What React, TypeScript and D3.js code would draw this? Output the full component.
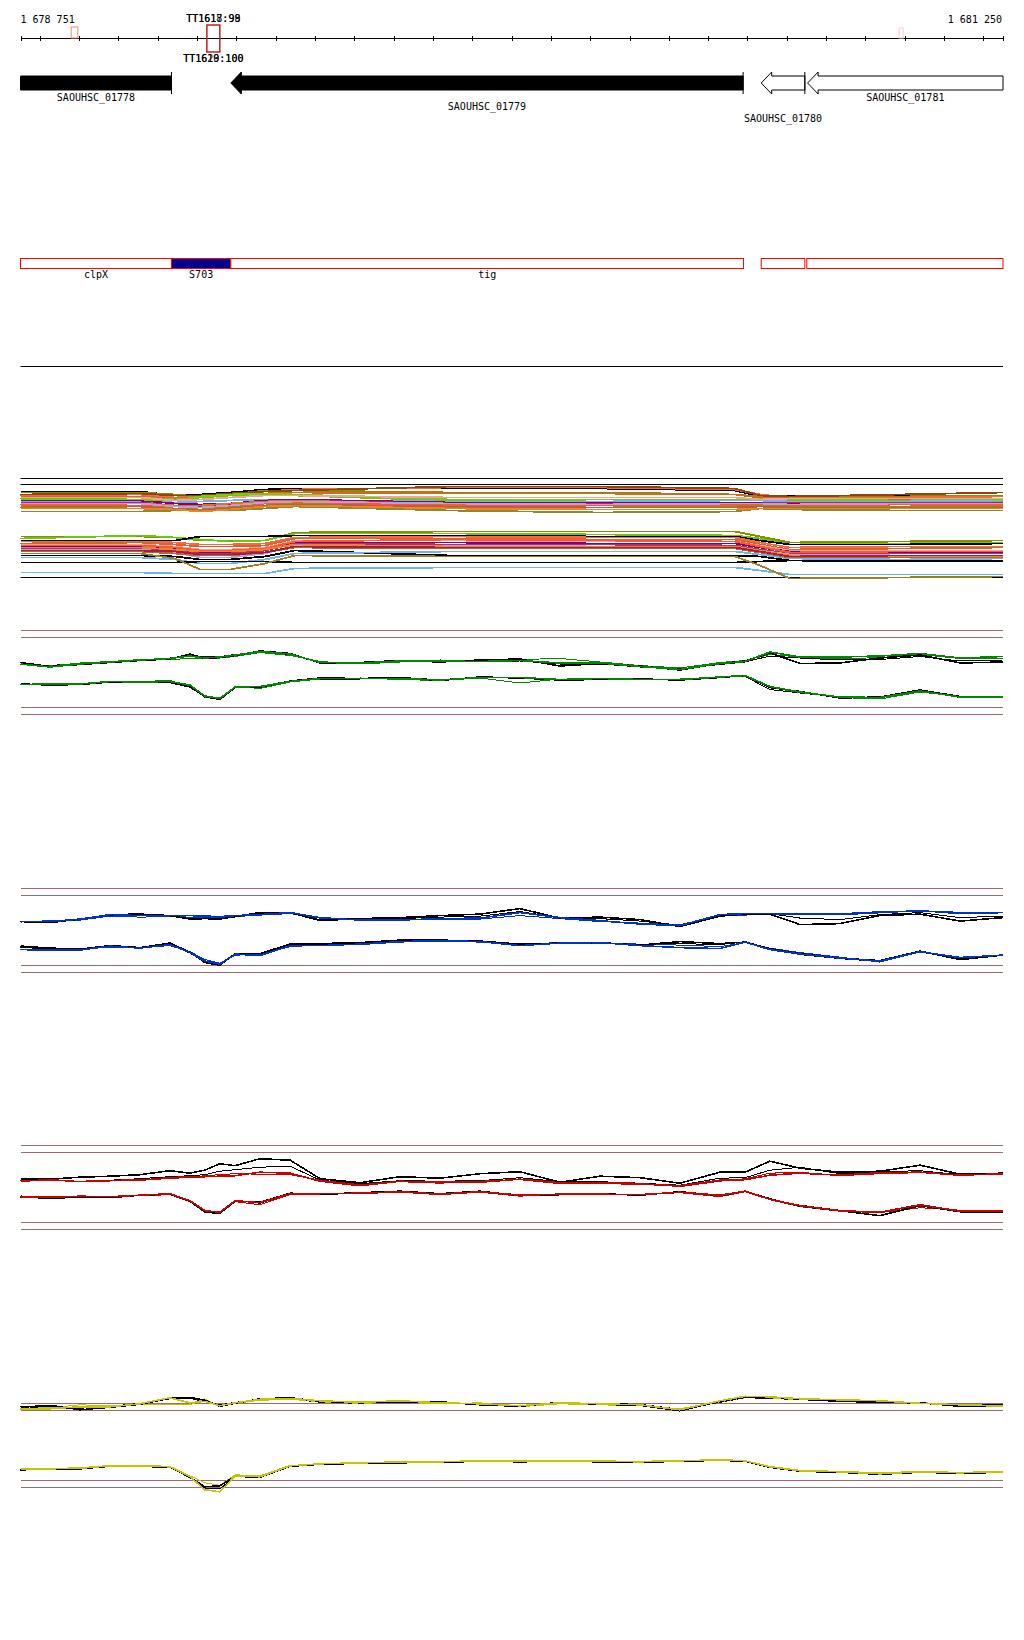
import React, { useEffect, useRef } from "react";
import * as d3 from "d3";

// genome window
const START = 1678751;
const END = 1681250;
const START_LABEL = "1 678 751";
const END_LABEL = "1 681 250";

const GENES = [
  { name: "SAOUHSC_01778", start: 1677900, end: 1679135, filled: true, row: 0 },
  { name: "SAOUHSC_01779", start: 1679286, end: 1680589, filled: true, row: 1 },
  { name: "SAOUHSC_01780", start: 1680635, end: 1680746, filled: false, row: 2 },
  { name: "SAOUHSC_01781", start: 1680753, end: 1681600, filled: false, row: 0 },
];

const OPERONS = [
  { name: "clpX", start: 1678700, end: 1679135, fill: "#fff" },
  { name: "S703", start: 1679135, end: 1679286, fill: "#00008b" },
  { name: "tig", start: 1679286, end: 1680590, fill: "#fff" },
  { name: "", start: 1680635, end: 1680746, fill: "#fff" },
  { name: "", start: 1680751, end: 1681600, fill: "#fff" },
];

const MARKERS = [
  { start: 1678880, end: 1678897, color: "#f08a70", y0: 27, y1: 38 },
  { start: 1679225, end: 1679258, color: "#c02020", y0: 25, y1: 52 },
  { start: 1680986, end: 1680996, color: "#f4d0c8", y0: 28, y1: 38 },
];
const MARKER_TOP_LABELS = ["TT1617:99", "TT1618:98"];
const MARKER_BOTTOM_LABELS = ["TT1619:100", "TT1620:100"];

// sampled positions for the four expression tracks
const TRACK_POS = [
  1678751, 1678826, 1678902, 1678979, 1679055, 1679131, 1679182, 1679220, 1679258, 1679297,
  1679360, 1679437, 1679513, 1679615, 1679716, 1679818, 1679920, 1680021, 1680123, 1680225,
  1680327, 1680428, 1680530, 1680594, 1680657, 1680734, 1680835, 1680937, 1681039, 1681141, 1681250,
];
const REF_LEVELS = [0, 1.4, 15.4, 16.8];

const GREEN_UP = [10.1, 9.5, 10.1, 10.5, 10.9, 11.2, 11.7, 11.3, 11.5, 11.9, 12.6, 12.1, 10.4, 10.3, 10.7, 10.7, 10.6, 10.8, 10.3, 10.3, 9.6, 9.0, 10.2, 10.6, 12.5, 11.5, 11.5, 11.7, 12.2, 11.3, 11.6];
const GREEN_UP_2 = [10.0, 9.7, 10.3, 10.6, 11.0, 11.0, 11.2, 11.1, 11.3, 11.6, 12.4, 11.8, 10.6, 10.1, 10.5, 10.9, 10.8, 11.0, 11.2, 10.5, 9.8, 9.3, 10.4, 10.8, 12.0, 11.5, 11.1, 11.4, 12.0, 11.2, 11.2];
const GREEN_UP_K = [10.4, 9.6, 10.0, 10.4, 10.8, 11.1, 12.1, 11.2, 11.4, 11.8, 12.7, 12.2, 10.3, 10.4, 10.8, 10.5, 10.9, 11.1, 9.7, 10.2, 9.7, 8.9, 10.2, 10.7, 12.3, 10.2, 10.3, 11.3, 11.9, 10.3, 10.5];
const GREEN_UP_K2 = [10.1, 9.8, 10.2, 10.5, 10.9, 11.3, 11.8, 11.5, 11.6, 12.0, 12.5, 12.0, 10.5, 10.2, 10.6, 10.6, 10.5, 10.7, 10.1, 10.1, 9.5, 9.1, 10.0, 10.5, 11.7, 11.3, 10.9, 11.0, 11.6, 10.7, 10.9];
const GREEN_LO = [6.0, 6.1, 6.1, 6.6, 6.5, 6.6, 5.9, 3.7, 3.2, 5.5, 5.6, 6.6, 7.2, 7.2, 7.2, 6.9, 7.4, 7.4, 7.0, 7.2, 7.0, 7.0, 7.5, 7.8, 5.6, 4.5, 3.5, 3.4, 4.7, 3.5, 3.5];
const GREEN_LO_2 = [6.0, 6.0, 6.2, 6.5, 6.6, 6.8, 5.7, 3.5, 3.3, 5.6, 5.2, 6.5, 7.1, 7.3, 7.0, 6.8, 7.3, 6.3, 7.1, 7.1, 6.9, 7.1, 7.4, 7.7, 5.4, 4.4, 3.4, 3.1, 4.5, 3.6, 3.4];
const GREEN_LO_K = [6.1, 5.9, 6.0, 6.5, 6.6, 6.4, 5.5, 3.6, 3.0, 5.4, 5.5, 6.7, 7.3, 7.2, 7.4, 6.8, 7.5, 7.3, 6.9, 7.0, 7.1, 6.9, 7.4, 7.8, 5.4, 4.6, 3.3, 3.5, 4.9, 3.6, 3.5];
const GREEN_LO_K2 = [6.0, 6.1, 6.0, 6.7, 6.4, 6.7, 5.8, 3.4, 3.1, 5.3, 5.4, 6.6, 7.1, 7.1, 7.3, 7.0, 7.4, 7.4, 7.0, 7.1, 7.0, 7.0, 7.5, 7.6, 5.0, 4.3, 3.5, 3.3, 4.8, 3.4, 3.6];

const BLUE_UP = [10.1, 10.1, 10.6, 11.5, 11.3, 11.3, 11.3, 11.2, 11.1, 11.3, 11.5, 11.9, 10.9, 10.4, 10.4, 10.7, 10.8, 11.9, 10.9, 10.3, 9.6, 9.3, 11.5, 11.7, 11.7, 11.5, 11.5, 11.9, 12.3, 11.7, 11.9];
const BLUE_UP_2 = [10.0, 10.3, 10.4, 11.2, 11.0, 11.1, 11.0, 10.9, 10.9, 11.1, 11.4, 11.7, 10.8, 10.6, 10.6, 10.5, 10.6, 11.3, 10.7, 10.1, 9.8, 9.5, 11.2, 11.4, 11.6, 11.8, 11.7, 12.1, 12.1, 12.0, 12.0];
const BLUE_UP_K = [10.1, 9.9, 10.6, 11.5, 11.6, 11.3, 10.6, 10.7, 10.6, 11.1, 11.9, 11.9, 10.3, 10.7, 10.9, 11.3, 11.6, 12.7, 10.8, 11.0, 10.5, 9.1, 11.2, 11.6, 11.6, 9.5, 9.7, 11.3, 11.6, 10.2, 10.9];
const BLUE_UP_K2 = [10.2, 10.0, 10.5, 11.3, 11.4, 11.4, 10.9, 10.9, 10.8, 11.2, 11.7, 11.8, 10.5, 10.5, 10.7, 11.0, 11.2, 12.1, 10.9, 10.7, 10.2, 9.4, 11.3, 11.5, 11.7, 10.8, 10.5, 11.5, 11.9, 10.9, 11.2];
const BLUE_LO = [4.5, 4.4, 4.4, 5.2, 4.8, 5.5, 3.9, 2.2, 1.6, 3.6, 3.3, 5.3, 5.3, 5.6, 6.1, 6.3, 6.1, 5.3, 5.8, 5.9, 5.3, 4.9, 4.7, 6.0, 4.5, 3.6, 2.8, 2.2, 4.1, 2.9, 3.4];
const BLUE_LO_2 = [4.6, 4.5, 4.6, 5.0, 4.9, 5.3, 4.1, 2.5, 1.8, 3.4, 3.5, 5.1, 5.4, 5.5, 6.0, 6.2, 6.0, 5.6, 5.9, 5.8, 5.6, 5.4, 5.1, 5.9, 4.8, 3.9, 3.0, 2.0, 4.0, 3.0, 3.3];
const BLUE_LO_K = [5.2, 4.8, 4.6, 5.3, 4.9, 5.8, 4.0, 1.9, 1.4, 3.7, 3.7, 5.6, 5.7, 5.9, 6.4, 6.4, 6.2, 5.6, 5.8, 5.9, 5.4, 6.1, 5.7, 6.0, 4.7, 3.7, 2.8, 2.3, 4.2, 2.5, 3.4];
const BLUE_LO_K2 = [4.9, 4.7, 4.5, 5.1, 4.8, 5.6, 3.8, 2.0, 1.5, 3.5, 3.6, 5.4, 5.5, 5.8, 6.2, 6.3, 6.1, 5.5, 5.7, 5.8, 5.5, 5.7, 5.5, 6.1, 4.6, 3.5, 2.7, 2.1, 4.0, 2.7, 3.3];

const RED_UP = [9.7, 10.0, 9.6, 9.8, 9.9, 10.4, 10.6, 10.6, 10.7, 10.8, 11.5, 11.3, 9.7, 8.8, 9.7, 9.5, 9.5, 10.1, 9.4, 9.3, 9.1, 8.8, 9.9, 10.0, 10.9, 11.3, 10.9, 11.4, 11.5, 10.9, 11.2];
const RED_UP_2 = [9.8, 9.8, 9.7, 9.9, 10.0, 10.2, 10.5, 10.8, 11.0, 11.2, 11.1, 11.0, 9.9, 9.0, 9.6, 9.3, 9.7, 10.0, 9.2, 9.5, 9.3, 8.6, 9.7, 10.2, 11.3, 11.5, 10.8, 11.2, 11.4, 11.0, 11.1];
const RED_UP_K = [10.1, 10.1, 10.5, 10.7, 11.0, 11.8, 11.3, 11.9, 13.2, 12.8, 14.2, 13.9, 10.2, 9.4, 10.6, 10.3, 11.2, 11.6, 9.5, 10.7, 10.4, 9.3, 11.5, 11.5, 13.7, 12.3, 11.5, 11.7, 12.9, 11.1, 11.3];
const RED_UP_K2 = [9.9, 9.9, 9.7, 9.9, 10.2, 10.6, 10.8, 11.0, 11.7, 12.0, 12.5, 12.7, 9.9, 9.2, 9.8, 9.7, 9.8, 10.4, 9.6, 9.6, 9.3, 8.9, 10.3, 10.4, 11.9, 12.5, 11.2, 11.6, 11.8, 11.0, 11.3];
const RED_LO = [6.6, 6.5, 6.7, 6.6, 6.9, 7.2, 5.8, 3.8, 3.5, 5.8, 5.4, 7.2, 7.2, 7.3, 7.6, 7.1, 7.6, 6.9, 7.1, 7.1, 7.0, 7.5, 6.9, 7.7, 6.1, 4.8, 3.8, 3.5, 5.0, 3.7, 3.7];
const RED_LO_2 = [6.6, 6.6, 6.6, 6.7, 6.8, 7.0, 5.6, 3.6, 3.2, 5.6, 5.0, 7.0, 7.3, 7.2, 7.5, 7.0, 7.5, 6.7, 7.2, 7.0, 7.1, 7.4, 6.6, 7.6, 6.0, 4.6, 3.7, 3.4, 4.4, 3.9, 3.6];
const RED_LO_K = [6.7, 6.2, 6.6, 6.4, 6.9, 7.1, 5.7, 3.5, 3.3, 5.7, 5.5, 7.3, 7.1, 7.4, 7.7, 7.2, 7.7, 6.8, 7.0, 7.2, 6.9, 7.6, 6.8, 7.7, 6.2, 4.7, 3.8, 2.8, 4.8, 3.6, 3.6];
const RED_LO_K2 = [6.5, 6.4, 6.5, 6.5, 6.8, 7.0, 5.9, 3.7, 3.4, 5.9, 5.3, 7.1, 7.0, 7.3, 7.5, 7.1, 7.6, 7.0, 7.1, 7.1, 7.0, 7.4, 6.9, 7.6, 6.0, 4.9, 3.9, 3.4, 4.9, 3.7, 3.7];

const YELLOW_UP = [15.6, 15.7, 16.1, 16.1, 16.7, 17.9, 16.9, 17.2, 16.3, 16.9, 17.6, 17.8, 17.3, 17.0, 17.3, 16.9, 16.7, 16.3, 16.9, 16.7, 16.5, 15.5, 17.3, 18.2, 18.1, 17.7, 17.5, 17.3, 16.8, 16.5, 16.3];
const YELLOW_UP_2 = [15.8, 15.9, 16.5, 16.3, 16.6, 16.5, 16.5, 17.7, 16.1, 16.8, 17.4, 17.6, 17.1, 16.8, 17.0, 16.7, 16.9, 16.1, 16.7, 16.5, 16.3, 15.7, 17.1, 17.9, 17.9, 17.5, 17.3, 17.1, 17.0, 16.3, 16.1];
const YELLOW_UP_K = [16.0, 16.4, 15.5, 16.0, 16.6, 17.8, 18.0, 17.4, 16.2, 16.8, 17.7, 17.9, 17.2, 16.9, 17.1, 17.1, 16.5, 16.2, 17.0, 16.6, 16.4, 15.3, 17.2, 18.0, 18.1, 17.6, 17.2, 17.0, 16.9, 16.2, 16.4];
const YELLOW_UP_K2 = [15.7, 16.2, 15.8, 16.2, 16.8, 17.7, 17.8, 17.1, 16.5, 17.0, 17.5, 17.7, 17.0, 16.8, 17.2, 16.8, 16.6, 16.4, 16.8, 16.8, 16.6, 15.6, 17.0, 17.9, 17.8, 17.5, 17.3, 17.2, 16.7, 16.6, 16.5];
const YELLOW_LO = [3.7, 3.7, 3.8, 4.3, 4.3, 4.1, 2.1, -0.5, -0.9, 2.3, 2.1, 4.3, 4.7, 4.9, 5.0, 5.1, 5.3, 5.2, 5.3, 5.2, 5.1, 5.3, 5.5, 5.3, 4.1, 3.3, 3.1, 2.7, 3.1, 2.9, 3.1];
const YELLOW_LO_2 = [3.8, 3.8, 3.9, 4.4, 4.4, 4.2, 2.3, 0.9, 0.4, 2.5, 2.3, 4.4, 4.6, 5.0, 5.1, 5.2, 5.2, 5.1, 5.3, 5.3, 5.2, 5.4, 5.4, 5.2, 4.2, 3.4, 3.2, 2.9, 3.2, 3.0, 3.2];
const YELLOW_LO_K = [3.5, 3.6, 3.7, 4.2, 4.2, 4.0, 2.0, 0.1, 0.3, 2.2, 2.0, 4.2, 4.6, 4.8, 4.9, 5.0, 5.2, 5.1, 5.2, 5.1, 5.0, 5.2, 5.4, 5.2, 4.0, 3.2, 3.0, 2.6, 3.0, 2.8, 3.0];
const YELLOW_LO_K2 = [3.6, 3.7, 3.6, 4.3, 4.1, 4.0, 1.9, -0.2, -0.3, 2.1, 2.1, 4.3, 4.7, 4.9, 5.0, 5.1, 5.3, 5.2, 5.3, 5.2, 5.1, 5.3, 5.5, 5.3, 4.1, 3.3, 3.1, 2.7, 3.1, 2.9, 3.1];

// multi-sample panel
const MULTI_POS = [1678751, 1679055, 1679144, 1679208, 1679284, 1679373, 1679449, 1679843, 1680225, 1680568, 1680632, 1680708, 1680988, 1681250];
const MULTI_REF = [0, 9.3, 9.9];
const MULTI_UPPER = [
  [8.6, 8.6, 8.2, 8.3, 8.5, 8.8, 8.9, 8.9, 8.9, 8.7, 8.1, 8.2, 8.2, 8.2],
  [8.5, 8.5, 8.3, 8.1, 8.3, 8.7, 8.7, 8.5, 8.5, 8.3, 8.0, 8.1, 8.1, 8.2],
  [8.2, 8.3, 8.0, 8.1, 8.2, 8.6, 8.8, 9.0, 9.0, 8.8, 8.3, 8.0, 8.0, 8.1],
  [8.1, 8.1, 7.9, 8.0, 8.3, 8.4, 8.5, 8.4, 8.4, 8.3, 8.1, 7.9, 7.8, 7.8],
  [8.3, 8.4, 8.2, 8.2, 8.4, 8.6, 8.7, 9.1, 9.1, 8.9, 8.2, 8.1, 8.3, 8.5],
  [7.9, 8.0, 7.8, 8.0, 8.2, 8.3, 8.2, 7.7, 7.6, 7.7, 7.8, 7.7, 7.7, 7.6],
  [7.6, 7.6, 7.5, 7.6, 7.7, 7.8, 7.7, 7.6, 7.6, 7.7, 7.7, 7.6, 7.6, 7.7],
  [7.7, 7.7, 7.4, 7.3, 7.4, 7.7, 7.8, 7.5, 7.5, 7.5, 7.5, 7.4, 7.5, 7.4],
  [7.5, 7.5, 7.2, 7.1, 7.3, 7.6, 7.7, 7.4, 7.4, 7.4, 7.4, 7.5, 7.5, 7.5],
  [7.3, 7.4, 7.2, 7.2, 7.4, 7.6, 7.7, 7.3, 7.3, 7.2, 7.3, 7.3, 7.3, 7.3],
  [7.2, 7.2, 7.1, 7.0, 7.1, 7.4, 7.5, 7.2, 7.2, 7.3, 7.2, 7.2, 7.1, 7.2],
  [7.4, 7.4, 7.1, 7.0, 7.2, 7.5, 7.6, 7.4, 7.3, 7.4, 7.4, 7.3, 7.4, 7.4],
  [7.0, 7.1, 6.9, 6.8, 7.0, 7.2, 7.4, 7.0, 7.0, 7.1, 7.2, 7.1, 7.1, 7.1],
  [7.1, 7.1, 6.8, 6.7, 6.9, 7.2, 7.3, 7.1, 7.0, 7.0, 7.1, 7.0, 7.0, 7.0],
  [6.6, 6.6, 6.7, 6.7, 6.7, 6.9, 7.1, 6.7, 6.5, 6.6, 6.9, 6.8, 6.7, 6.7],
  [6.9, 6.9, 6.8, 6.6, 6.8, 7.1, 7.2, 6.9, 6.8, 6.8, 6.9, 6.9, 6.9, 6.9],
  [7.8, 7.8, 7.7, 8.1, 8.3, 8.4, 8.3, 7.8, 7.8, 7.8, 7.9, 7.8, 7.9, 7.8],
  [8.0, 8.0, 7.7, 7.8, 8.0, 8.2, 8.2, 8.0, 8.0, 8.0, 7.8, 7.9, 7.9, 7.9],
];
const MULTI_UPPER_COLORS = [
  "#000000", "#8b8b00", "#ff6347", "#d2691e", "#8b4513", "#66cc00", "#6cb4ee", "#800080", "#c71585",
  "#e07020", "#ff5533", "#b8a0dc", "#9a8a10", "#c06030", "#8b8b2b", "#f08030", "#7ccd00", "#f4a0a0",
];
const MULTI_LOWER = [
  [4.1, 4.1, 4.0, 3.7, 3.7, 3.7, 4.5, 4.6, 4.6, 4.6, 4.1, 3.5, 3.6, 3.7],
  [3.9, 4.2, 4.0, 3.8, 3.6, 3.7, 4.4, 4.4, 4.3, 4.2, 3.9, 3.3, 3.4, 3.5],
  [3.7, 3.7, 3.7, 4.1, 4.1, 4.1, 4.2, 4.2, 4.1, 4.1, 3.7, 3.3, 3.3, 3.4],
  [3.6, 3.6, 3.5, 3.3, 3.3, 3.4, 4.0, 4.1, 4.0, 4.0, 3.5, 3.0, 3.1, 3.1],
  [3.4, 3.5, 3.3, 3.1, 3.1, 3.2, 3.9, 3.9, 3.8, 3.8, 3.3, 2.8, 2.9, 3.0],
  [3.3, 3.3, 3.1, 2.8, 2.8, 3.0, 3.7, 3.7, 3.6, 3.6, 3.2, 2.7, 2.7, 2.7],
  [3.1, 3.1, 2.9, 2.5, 2.5, 2.8, 3.5, 3.5, 3.4, 3.4, 3.0, 2.6, 2.5, 2.5],
  [2.9, 2.9, 2.7, 2.4, 2.4, 2.7, 3.4, 3.3, 3.3, 3.2, 2.8, 2.4, 2.4, 2.4],
  [2.8, 2.8, 2.5, 2.0, 2.0, 2.4, 3.2, 3.2, 3.1, 3.1, 2.7, 2.3, 2.2, 2.2],
  [3.2, 3.2, 3.0, 2.7, 2.7, 2.9, 3.6, 3.8, 3.7, 3.6, 3.1, 2.5, 2.6, 2.6],
  [3.0, 3.0, 2.8, 2.6, 2.6, 2.8, 3.3, 3.1, 3.1, 3.1, 2.7, 2.2, 2.1, 2.1],
  [2.2, 2.2, 2.1, 1.8, 1.8, 2.1, 2.7, 2.2, 2.2, 2.2, 2.1, 1.7, 1.6, 1.6],
  [2.0, 2.0, 1.8, 1.4, 1.4, 1.8, 2.4, 2.6, 2.6, 2.6, 2.3, 1.9, 1.8, 1.9],
  [1.5, 1.5, 1.5, 1.6, 1.6, 1.6, 1.5, 1.5, 1.5, 1.5, 1.6, 1.7, 1.7, 1.7],
  [0.5, 0.5, 0.4, 0.4, 0.4, 0.4, 0.9, 1.0, 1.0, 1.0, 0.7, 0.3, 0.3, 0.3],
  [2.4, 2.4, 1.9, 0.8, 0.8, 1.4, 2.2, 2.1, 2.1, 2.1, 1.2, -0.1, 0.0, 0.1],
  [2.6, 2.6, 2.4, 2.2, 2.2, 2.5, 3.0, 2.9, 2.9, 2.9, 2.5, 2.0, 2.0, 2.0],
  [2.7, 2.7, 2.6, 2.3, 2.3, 2.5, 3.1, 3.0, 3.0, 3.0, 2.6, 2.1, 2.2, 2.2],
];
const MULTI_LOWER_COLORS = [
  "#8b8b00", "#66cc00", "#000000", "#ff6347", "#d2691e", "#e8a0b0", "#800080", "#b03070", "#b8a0dc",
  "#ff5533", "#e8842c", "#000000", "#6cb4ee", "#000000", "#6cb4ee", "#9a8020", "#c06030", "#a02040",
];

const TRACKS = [
  { color: "#008800", series: [GREEN_UP_K2, GREEN_UP_2, GREEN_UP_K, GREEN_UP, GREEN_LO_K2, GREEN_LO_2, GREEN_LO_K, GREEN_LO] },
  { color: "#0033cc", series: [BLUE_UP_K2, BLUE_UP_2, BLUE_UP_K, BLUE_UP, BLUE_LO_K2, BLUE_LO_2, BLUE_LO_K, BLUE_LO] },
  { color: "#cc0000", series: [RED_UP_K2, RED_UP_2, RED_UP_K, RED_UP, RED_LO_K2, RED_LO_2, RED_LO_K, RED_LO] },
  { color: "#c4c400", series: [YELLOW_UP_K2, YELLOW_UP_2, YELLOW_UP_K, YELLOW_UP, YELLOW_LO_K2, YELLOW_LO_2, YELLOW_LO_K, YELLOW_LO] },
];

const FONT = "'DejaVu Sans Mono', monospace";

const App = () => {
  const ref = useRef<SVGSVGElement>(null);

  useEffect(() => {
    const svg = d3.select(ref.current);
    svg.selectAll("*").remove();

    const left = 20.5,
      right = 1003;
    const x = d3.scaleLinear().domain([START, END]).range([left, right]);
    const clampX = (v: number) => Math.max(left, Math.min(right, x(v)));

    // ---- ruler
    const axisY = 38.5;
    svg.append("line").attr("x1", left).attr("x2", right).attr("y1", axisY).attr("y2", axisY)
      .attr("stroke", "#000").attr("shape-rendering", "crispEdges");
    const ticks = [START, ...d3.range(1678800, END, 100), END];
    svg.selectAll("line.tick").data(ticks).enter().append("line")
      .attr("class", "tick")
      .attr("x1", (d: any) => Math.round(x(d)) + 0.5).attr("x2", (d: any) => Math.round(x(d)) + 0.5)
      .attr("y1", axisY - 2.5).attr("y2", axisY + 2.5)
      .attr("stroke", "#000").attr("shape-rendering", "crispEdges");
    svg.append("text").attr("x", left).attr("y", 23).text(START_LABEL)
      .attr("font-family", FONT).attr("font-size", 10);
    svg.append("text").attr("x", right - 1).attr("y", 23).attr("text-anchor", "end").text(END_LABEL)
      .attr("font-family", FONT).attr("font-size", 10);

    // markers
    MARKERS.forEach((m) => {
      svg.append("rect").attr("x", x(m.start)).attr("y", m.y0)
        .attr("width", x(m.end) - x(m.start)).attr("height", m.y1 - m.y0)
        .attr("fill", "none").attr("stroke", m.color).attr("stroke-width", m.y1 - m.y0 > 20 ? 1.5 : 1);
    });
    const mc = (x(MARKERS[1].start) + x(MARKERS[1].end)) / 2;
    MARKER_TOP_LABELS.forEach((t) => {
      svg.append("text").attr("x", mc).attr("y", 22).attr("text-anchor", "middle").text(t)
        .attr("font-family", FONT).attr("font-size", 10);
    });
    MARKER_BOTTOM_LABELS.forEach((t) => {
      svg.append("text").attr("x", mc).attr("y", 62).attr("text-anchor", "middle").text(t)
        .attr("font-family", FONT).attr("font-size", 10);
    });

    // ---- genes (all on reverse strand)
    const gTop = 76,
      gBot = 90,
      gMid = 83,
      head = 10.5,
      wing = 4;
    const labelY = [101, 109.5, 122];
    GENES.forEach((g) => {
      const xs = x(g.start),
        xe = x(g.end);
      const x1 = Math.max(left, xs),
        x2 = Math.min(right, xe);
      let pts: number[][];
      if (xs >= left) {
        pts = [[x1, gMid], [x1 + head, gTop - wing], [x1 + head, gTop], [x2, gTop], [x2, gBot],
          [x1 + head, gBot], [x1 + head, gBot + wing]];
      } else {
        pts = [[x1, gTop], [x2, gTop], [x2, gBot], [x1, gBot]];
      }
      svg.append("polygon").attr("points", pts.map((p) => p.join(",")).join(" "))
        .attr("fill", g.filled ? "#000" : "#fff").attr("stroke", "#000").attr("stroke-width", 1);
      if (xe <= right) {
        svg.append("line").attr("x1", xe).attr("x2", xe).attr("y1", gTop - wing).attr("y2", gBot + wing)
          .attr("stroke", "#000");
      }
      svg.append("text").attr("x", (x1 + x2) / 2).attr("y", labelY[g.row]).attr("text-anchor", "middle")
        .text(g.name).attr("font-family", FONT).attr("font-size", 10);
    });

    // ---- operons
    OPERONS.forEach((o) => {
      const x1 = clampX(o.start),
        x2 = clampX(o.end);
      svg.append("rect").attr("x", x1).attr("y", 258.5).attr("width", x2 - x1).attr("height", 10)
        .attr("fill", o.fill).attr("stroke", "#ff0000").attr("stroke-width", 1);
      if (o.name) {
        svg.append("text").attr("x", (x1 + x2) / 2).attr("y", 278).attr("text-anchor", "middle")
          .text(o.name).attr("font-family", FONT).attr("font-size", 10);
      }
    });

    svg.append("line").attr("x1", left).attr("x2", right).attr("y1", 366.5).attr("y2", 366.5)
      .attr("stroke", "#000");

    // ---- multi-sample panel
    const my = d3.scaleLinear().domain([0, 10]).range([577.5, 477.5]);
    MULTI_REF.forEach((r) => {
      svg.append("line").attr("x1", left).attr("x2", right).attr("y1", my(r)).attr("y2", my(r))
        .attr("stroke", "#000").attr("stroke-width", 1.2);
    });
    const mline = d3.line<number>().x((d, i) => x(MULTI_POS[i])).y((d) => my(d));
    const multi = [
      ...MULTI_LOWER.map((s, i) => ({ s, c: MULTI_LOWER_COLORS[i] })),
      ...MULTI_UPPER.map((s, i) => ({ s, c: MULTI_UPPER_COLORS[i] })),
    ];
    svg.append("g").selectAll("path").data(multi).enter().append("path")
      .attr("d", (d: any) => mline(d.s))
      .attr("fill", "none").attr("stroke", (d: any) => d.c).attr("stroke-width", 1.8)
      .attr("shape-rendering", "crispEdges");

    // ---- expression tracks
    const line = d3.line<number>().x((d, i) => x(TRACK_POS[i]));
    TRACKS.forEach((t, ti) => {
      const top = 630.5 + ti * 257.6;
      const y = d3.scaleLinear().domain([0, 16.8]).range([top + 84, top]);
      REF_LEVELS.forEach((r) => {
        svg.append("line").attr("x1", left).attr("x2", right).attr("y1", y(r)).attr("y2", y(r))
          .attr("stroke", "#a06868").attr("stroke-width", 1).attr("shape-rendering", "crispEdges");
      });
      line.y((d) => y(d));
      t.series.forEach((s, si) => {
        const black = si % 2 === 0;
        svg.append("path").attr("d", line(s))
          .attr("fill", "none").attr("stroke", black ? "#000" : t.color)
          .attr("stroke-width", si % 4 < 2 ? 1 : 1.6)
          .attr("shape-rendering", "crispEdges");
      });
    });
  }, []);

  return (
    <div style={{ position: "absolute", left: 0, top: 0 }}>
      <svg ref={ref} width={1024} height={1640} style={{ display: "block", background: "#fff" }} />
    </div>
  );
};

export default App;
